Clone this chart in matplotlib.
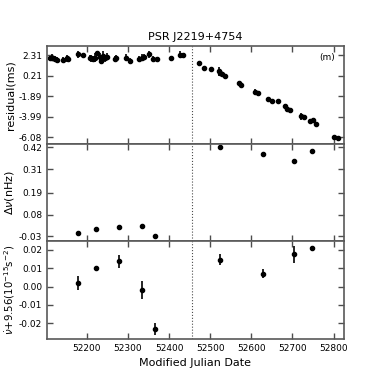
import numpy as np
import matplotlib
matplotlib.use("Agg")
import matplotlib.pyplot as plt

# residuals (ms)
res_mjd = [52110, 52114, 52118, 52122, 52128, 52141, 52151, 52153, 52178, 52191,
           52207, 52211, 52215, 52219, 52225, 52231, 52235, 52239, 52243, 52249,
           52268, 52272, 52295, 52306, 52327, 52333, 52338, 52350, 52362, 52370,
           52404, 52426, 52434,
           52472, 52486, 52503, 52521, 52524, 52529, 52537, 52570, 52575, 52610,
           52616, 52640, 52651, 52665, 52683, 52688, 52693, 52721, 52729, 52743,
           52749, 52757, 52800, 52812]
res_val = [2.00, 2.10, 2.00, 1.94, 1.87, 1.87, 2.00, 1.94, 2.45, 2.38,
           2.10, 2.00, 1.94, 2.10, 2.52, 2.17, 1.77, 2.24, 2.00, 2.17,
           1.94, 2.10, 2.10, 1.77, 1.94, 2.10, 2.17, 2.45, 1.94, 1.94,
           2.00, 2.38, 2.31,
           1.58, 1.07, 0.90, 0.69, 0.55, 0.41, 0.21, -0.49, -0.73, -1.42,
           -1.59, -2.11, -2.39, -2.39, -2.91, -3.15, -3.32, -3.95, -4.02, -4.46,
           -4.36, -4.70, -6.08, -6.15]
res_err = [0.25, 0.35, 0.25, 0.3, 0.3, 0.3, 0.35, 0.3, 0.35, 0.2,
           0.3, 0.35, 0.3, 0.5, 0.3, 0.35, 0.35, 0.5, 0.35, 0.35,
           0.35, 0.3, 0.4, 0.3, 0.3, 0.35, 0.3, 0.35, 0.3, 0.25,
           0.3, 0.35, 0.3,
           0.1, 0.1, 0.1, 0.45, 0.35, 0.15, 0.1, 0.15, 0.15, 0.3,
           0.3, 0.1, 0.1, 0.1, 0.2, 0.15, 0.1, 0.35, 0.15, 0.15,
           0.15, 0.1, 0.15, 0.1]

# frequency offset (nHz)
nu_mjd = [52179, 52223, 52278, 52334, 52365, 52524, 52628, 52704, 52748]
nu_val = [-0.015, 0.007, 0.018, 0.025, -0.030, 0.420, 0.388, 0.350, 0.400]

# nudot + 9.56 (1e-15 s^-2)
nd_mjd = [52179, 52223, 52278, 52334, 52365, 52524, 52628, 52704, 52748]
nd_val = [0.0019, 0.0101, 0.0137, -0.0018, -0.0232, 0.0147, 0.0071, 0.0176, 0.0208]
nd_err = [0.0037, 0.0008, 0.0033, 0.0048, 0.0032, 0.0030, 0.0026, 0.0048, 0.0012]

glitch_mjd = 52455

res_ticks = [2.31, 0.21, -1.89, -3.99, -6.08]
nu_ticks = [0.42, 0.31, 0.19, 0.08, -0.03]
nd_ticks = [0.02, 0.01, 0.00, -0.01, -0.02]
x_ticks = [52200, 52300, 52400, 52500, 52600, 52700, 52800]

fig, axes = plt.subplots(3, 1, sharex=True, figsize=(3.82, 3.82), dpi=100)
fig.subplots_adjust(left=0.123, right=0.90, top=0.88, bottom=0.113, hspace=0)
ax1, ax2, ax3 = axes

kw = dict(fmt="o", color="k", ms=3, elinewidth=1.2, capsize=0)
ax1.errorbar(res_mjd, res_val, yerr=res_err, **kw)
ax1.set_ylim(-6.73, 3.3)
ax1.set_yticks(res_ticks)
ax1.set_yticklabels(["%.2f" % v for v in res_ticks])
ax1.set_ylabel("residual(ms)", fontsize=8, labelpad=2)
ax1.text(0.97, 0.93, "(m)", transform=ax1.transAxes, ha="right", va="top", fontsize=6.5)
ax1.set_title("PSR J2219+4754", fontsize=8, pad=4)

ax2.plot(nu_mjd, nu_val, "o", color="k", ms=3)
ax2.set_ylim(-0.054, 0.44)
ax2.set_yticks(nu_ticks)
ax2.set_yticklabels(["%.2f" % v for v in nu_ticks])
ax2.set_ylabel(r"$\Delta\nu$(nHz)", fontsize=8, labelpad=2)

ax3.errorbar(nd_mjd, nd_val, yerr=nd_err, **kw)
ax3.set_ylim(-0.0286, 0.0248)
ax3.set_yticks(nd_ticks)
ax3.set_yticklabels(["%.2f" % v for v in nd_ticks])
ax3.set_ylabel(r"$\dot{\nu}$+9.56($10^{-15}$s$^{-2}$)", fontsize=7.3, labelpad=1)
ax3.set_xlabel("Modified Julian Date", fontsize=8)
ax3.set_xticks(x_ticks)
ax3.set_xlim(52103, 52825)

for ax in axes:
    ax.axvline(glitch_mjd, color="0.3", ls=":", lw=0.8)
    ax.tick_params(direction="in", top=True, right=True, labelsize=6.5, length=4, width=1, color="0.3")
    for s in ax.spines.values():
        s.set_linewidth(1.2)
        s.set_color("0.35")

fig.align_ylabels(axes)
fig.savefig("out.png", dpi=100)
